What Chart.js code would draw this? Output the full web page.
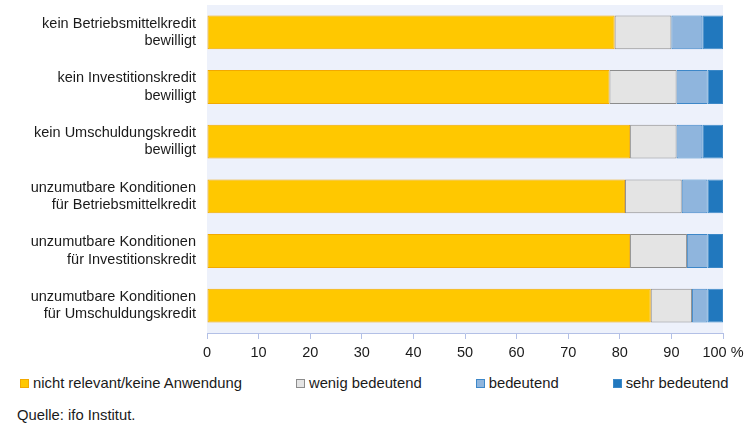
<!DOCTYPE html>
<html><head><meta charset="utf-8">
<script src="https://cdn.jsdelivr.net/npm/chart.js@4"></script>
<style>
body{margin:0;background:#fff;font-family:"Liberation Sans",Arial,sans-serif;color:#1a1a1a;}
#wrap{position:relative;width:745px;height:425px;overflow:hidden;}
#c{position:absolute;left:0;top:0;}
#legend{position:absolute;left:20px;top:375px;display:flex;column-gap:54px;font-size:14.8px;line-height:17px;white-space:nowrap;}
#legend .it{display:flex;align-items:center;}
#legend .bx{display:inline-block;width:9px;height:9px;box-sizing:border-box;border:1px solid;margin-right:4px;}
#src{position:absolute;left:17px;top:407px;font-size:14.8px;line-height:17px;white-space:nowrap;}
</style>
</head><body>
<div id="wrap">
<canvas id="c" width="745" height="365" style="width:745px;height:365px"></canvas>
<div id="legend"></div>
<div id="src">Quelle: ifo Institut.</div>
</div>
<script>
const categories = [
  ["kein Betriebsmittelkredit", "bewilligt"],
  ["kein Investitionskredit", "bewilligt"],
  ["kein Umschuldungskredit", "bewilligt"],
  ["unzumutbare Konditionen", "für Betriebsmittelkredit"],
  ["unzumutbare Konditionen", "für Investitionskredit"],
  ["unzumutbare Konditionen", "für Umschuldungskredit"]
];
const seriesNames = ["nicht relevant/keine Anwendung", "wenig bedeutend", "bedeutend", "sehr bedeutend"];
const nichtRelevant = [79, 78, 82, 81, 82, 86];
const wenigBedeutend = [11, 13, 9, 11, 11, 8];
const bedeutend = [6, 6, 5, 5, 4, 3];
const sehrBedeutend = [4, 3, 4, 3, 3, 3];
const xTicks = [0, 10, 20, 30, 40, 50, 60, 70, 80, 90, 100];

const fills = ["#ffc800", "#e4e4e4", "#8fb5dd", "#2178be"];
const borders = ["#f2a900", "#8c8c8c", "#3d87c8", "#3b88c7"];
const values = [nichtRelevant, wenigBedeutend, bedeutend, sehrBedeutend];

const bgPlugin = {
  id: 'plotBg',
  beforeDraw(chart) {
    const {ctx, chartArea: a} = chart;
    ctx.save();
    ctx.fillStyle = '#edf1fb';
    ctx.fillRect(a.left, a.top, a.right - a.left, a.bottom - a.top);
    ctx.restore();
  }
};

const font = {family: '"Liberation Sans", Arial, sans-serif', size: 14.5};

new Chart(document.getElementById('c'), {
  type: 'bar',
  data: {
    labels: categories,
    datasets: seriesNames.map((n, i) => ({
      label: n,
      data: values[i],
      backgroundColor: fills[i],
      borderColor: borders[i],
      borderWidth: 1,
      borderSkipped: false,
      barPercentage: 0.62,
      categoryPercentage: 1
    }))
  },
  options: {
    indexAxis: 'y',
    responsive: false,
    animation: false,
    layout: {padding: {left: 0, right: 22, top: 5, bottom: 0}},
    plugins: {legend: {display: false}, tooltip: {enabled: false}},
    scales: {
      x: {
        stacked: true,
        min: 0, max: 100,
        afterBuildTicks(s) { s.ticks = xTicks.map(v => ({value: v})); },
        ticks: {
          color: '#1a1a1a', font, padding: 5, maxRotation: 0, autoSkip: false,
          callback: v => v === 100 ? '100 %' : String(v)
        },
        grid: {display: true, drawOnChartArea: false, drawTicks: true, tickLength: 6, color: '#b3c0e6', lineWidth: 1},
        border: {display: true, color: '#b3c0e6', width: 1},
        afterFit(s) { s.height = 32; s.paddingLeft = 0; s.paddingRight = 0; }
      },
      y: {
        stacked: true,
        ticks: {color: '#1a1a1a', font, padding: 11, autoSkip: false},
        grid: {display: false, drawTicks: false},
        border: {display: false},
        afterFit(s) { s.width = 207; s.paddingTop = 0; s.paddingBottom = 0; }
      }
    }
  },
  plugins: [bgPlugin]
});

const leg = document.getElementById('legend');
seriesNames.forEach((n, i) => {
  const it = document.createElement('span');
  it.className = 'it';
  const b = document.createElement('span');
  b.className = 'bx';
  b.style.background = fills[i];
  b.style.borderColor = borders[i];
  it.appendChild(b);
  it.appendChild(document.createTextNode(n));
  leg.appendChild(it);
});
</script>
</body></html>
